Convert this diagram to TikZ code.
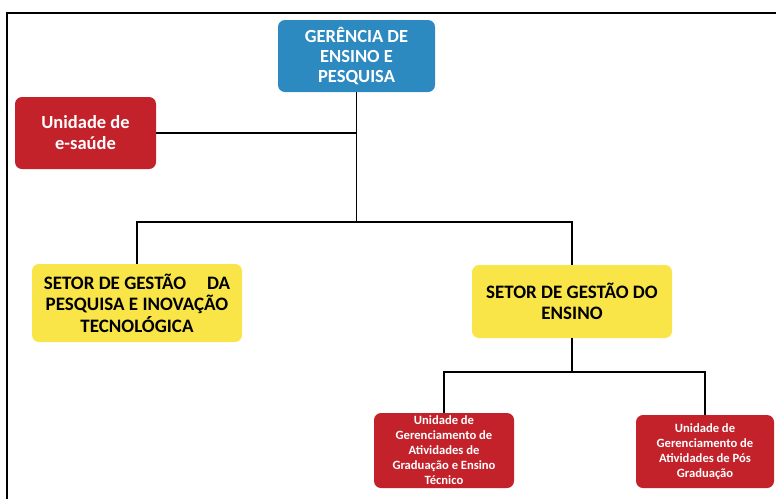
\documentclass[tikz,border=0pt]{standalone}
\usepackage{fontspec}
\setmainfont{Carlito}
\definecolor{azul}{HTML}{2C8AC1}
\definecolor{vermelho}{HTML}{C3222B}
\definecolor{amarelo}{HTML}{F9E547}
\begin{document}
\begin{tikzpicture}[x=1pt,y=-1pt]
      \tikzstyle caixa=[rounded corners=7pt, align=center, inner sep=0pt, font=\bfseries]
      \tikzstyle azulbox=[caixa, fill=azul, text=white,
      font=\bfseries\fontsize{18.5}{20}\selectfont]
      \tikzstyle vermelhobox=[caixa, fill=vermelho, text=white,
      font=\bfseries\fontsize{18.5}{21}\selectfont]
      \tikzstyle amarelobox=[caixa, fill=amarelo, text=black,
      font=\bfseries\fontsize{19}{21.5}\selectfont]
      \tikzstyle unidadebox=[caixa, fill=vermelho, text=white,
      font=\bfseries\fontsize{12.6}{15}\selectfont]
      \tikzstyle ligacao=[line width=1.7pt, black]
      \useasboundingbox (0,0) rectangle (776,499);
      \draw [line width=1.4pt] (7,499) -- (7,13) -- (776,13);
      \node [azulbox, minimum width=157, minimum height=72] (ger) at (356.5,56)
      {GERÊNCIA DE\\ENSINO E\\PESQUISA};
      \node [vermelhobox, minimum width=141, minimum height=72] (esaude) at (85.5,133)
      {Unidade de\\e-saúde};
      \node [amarelobox, minimum width=210, minimum height=78] (pesq) at (137,303)
      {SETOR DE GESTÃO\hspace{1.1em}DA\\PESQUISA E INOVAÇÃO\\TECNOLÓGICA};
      \node [amarelobox, minimum width=200, minimum height=73] (ens) at (572,301.5)
      {SETOR DE GESTÃO DO\\ENSINO};
      \node [unidadebox, minimum width=140, minimum height=75] (grad) at (444,450.5)
      {Unidade de\\Gerenciamento de\\Atividades de\\Graduação e Ensino\\Técnico};
      \node [unidadebox, minimum width=138, minimum height=73] (pos) at (705,451.5)
      {Unidade de\\Gerenciamento de\\Atividades de Pós\\Graduação};
      \coordinate (j1) at (356.5,222);
      \coordinate (j2) at (572,372);
      \draw [ligacao] (ger.south) -- (j1);
      \draw [ligacao] (esaude.east) -- (esaude.east -| ger.south);
      \draw [ligacao] (pesq.north) |- (j1) -| (ens.north);
      \draw [ligacao] (ens.south) -- (j2);
      \draw [ligacao] (grad.north) |- (j2) -| (pos.north);
    \end{tikzpicture}
\end{document}
